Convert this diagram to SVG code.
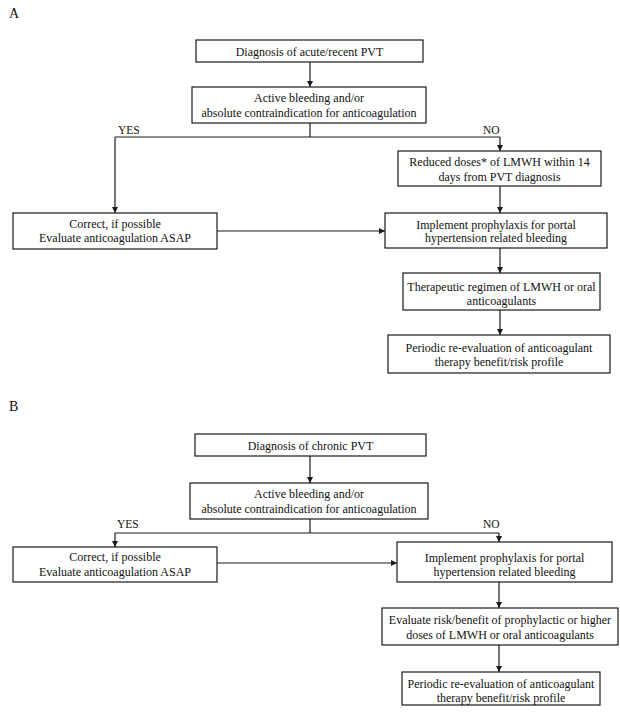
<svg xmlns="http://www.w3.org/2000/svg" width="620" height="720" viewBox="0 0 620 720">
<style>
.box{fill:#fff;stroke:#1a1a1a;stroke-width:1.2}
.t{font-family:"Liberation Serif","Times New Roman",serif;font-size:12px;fill:#111;text-anchor:middle}
.lbl{font-family:"Liberation Serif","Times New Roman",serif;font-size:11.5px;fill:#111}
.pl{font-family:"Liberation Serif","Times New Roman",serif;font-size:14px;fill:#111}
.c{fill:none;stroke:#1a1a1a;stroke-width:1.2}
</style>
<defs>
<marker id="ah" viewBox="0 0 10 10" refX="10" refY="5" markerWidth="6" markerHeight="6" orient="auto" markerUnits="userSpaceOnUse"><path d="M0,0 L10,5 L0,10 z" fill="#1a1a1a"/></marker>
</defs>
<rect width="620" height="720" fill="#fff"/>
<text class="pl" x="9" y="18">A</text>
<text class="pl" x="9" y="411">B</text>

<g id="connectors">
<line class="c" x1="310" y1="62" x2="310" y2="87" marker-end="url(#ah)"/>
<polyline class="c" points="310,123 310,137"/>
<line class="c" x1="115" y1="137" x2="500" y2="137"/>
<line class="c" x1="115" y1="137" x2="115" y2="213" marker-end="url(#ah)"/>
<line class="c" x1="500" y1="137" x2="500" y2="151" marker-end="url(#ah)"/>
<line class="c" x1="500" y1="186" x2="500" y2="213" marker-end="url(#ah)"/>
<line class="c" x1="217" y1="231" x2="385" y2="231" marker-end="url(#ah)"/>
<line class="c" x1="500" y1="248" x2="500" y2="273" marker-end="url(#ah)"/>
<line class="c" x1="500" y1="310" x2="500" y2="335" marker-end="url(#ah)"/>
<text class="lbl" x="118" y="133.5">YES</text>
<text class="lbl" x="483" y="133.5">NO</text>

<line class="c" x1="310" y1="456" x2="310" y2="483" marker-end="url(#ah)"/>
<line class="c" x1="310" y1="519" x2="310" y2="533"/>
<line class="c" x1="115" y1="533" x2="499" y2="533"/>
<line class="c" x1="115" y1="533" x2="115" y2="547" marker-end="url(#ah)"/>
<line class="c" x1="499" y1="533" x2="499" y2="542" marker-end="url(#ah)"/>
<line class="c" x1="217" y1="563" x2="397" y2="563" marker-end="url(#ah)"/>
<line class="c" x1="499" y1="582" x2="499" y2="608" marker-end="url(#ah)"/>
<line class="c" x1="499" y1="645" x2="499" y2="672" marker-end="url(#ah)"/>
<text class="lbl" x="117" y="527.5">YES</text>
<text class="lbl" x="483" y="527.5">NO</text>
</g>

<g id="a-diagnosis">
<rect class="box" x="196" y="40" width="227" height="22"/>
<text class="t" x="309.5" y="55.5">Diagnosis of acute/recent PVT</text>
</g>
<g id="a-bleeding">
<rect class="box" x="192" y="87" width="234" height="36"/>
<text class="t" x="309" y="101.5">Active bleeding and/or</text>
<text class="t" x="309" y="116.5">absolute contraindication for anticoagulation</text>
</g>
<g id="a-reduced">
<rect class="box" x="398" y="151" width="203" height="35"/>
<text class="t" x="499.5" y="166">Reduced doses* of LMWH within 14</text>
<text class="t" x="499.5" y="181">days from PVT diagnosis</text>
</g>
<g id="a-correct">
<rect class="box" x="13" y="213" width="204" height="36"/>
<text class="t" x="115" y="228">Correct, if possible</text>
<text class="t" x="115" y="242">Evaluate anticoagulation ASAP</text>
</g>
<g id="a-implement">
<rect class="box" x="385" y="213" width="222" height="35"/>
<text class="t" x="496" y="228.5">Implement prophylaxis for portal</text>
<text class="t" x="496" y="242">hypertension related bleeding</text>
</g>
<g id="a-therapeutic">
<rect class="box" x="403" y="273" width="197" height="37"/>
<text class="t" x="501.5" y="291">Therapeutic regimen of LMWH or oral</text>
<text class="t" x="501.5" y="304.5">anticoagulants</text>
</g>
<g id="a-periodic">
<rect class="box" x="388" y="335" width="222" height="38"/>
<text class="t" x="499" y="352">Periodic re-evaluation of anticoagulant</text>
<text class="t" x="499" y="366">therapy benefit/risk profile</text>
</g>

<g id="b-diagnosis">
<rect class="box" x="195" y="434" width="231" height="22"/>
<text class="t" x="310.5" y="449.5">Diagnosis of chronic PVT</text>
</g>
<g id="b-bleeding">
<rect class="box" x="190" y="483" width="238" height="36"/>
<text class="t" x="309" y="497.5">Active bleeding and/or</text>
<text class="t" x="309" y="512.5">absolute contraindication for anticoagulation</text>
</g>
<g id="b-correct">
<rect class="box" x="13" y="547" width="204" height="35"/>
<text class="t" x="115" y="561">Correct, if possible</text>
<text class="t" x="115" y="576">Evaluate anticoagulation ASAP</text>
</g>
<g id="b-implement">
<rect class="box" x="397" y="542" width="215" height="40"/>
<text class="t" x="504.5" y="562">Implement prophylaxis for portal</text>
<text class="t" x="504.5" y="576">hypertension related bleeding</text>
</g>
<g id="b-evaluate">
<rect class="box" x="382" y="608" width="236" height="37"/>
<text class="t" x="500" y="624">Evaluate risk/benefit of prophylactic or higher</text>
<text class="t" x="500" y="639">doses of LMWH or oral anticoagulants</text>
</g>
<g id="b-periodic">
<rect class="box" x="402" y="672" width="198" height="33"/>
<text class="t" x="501" y="688">Periodic re-evaluation of anticoagulant</text>
<text class="t" x="501" y="701.5">therapy benefit/risk profile</text>
</g>
</svg>
